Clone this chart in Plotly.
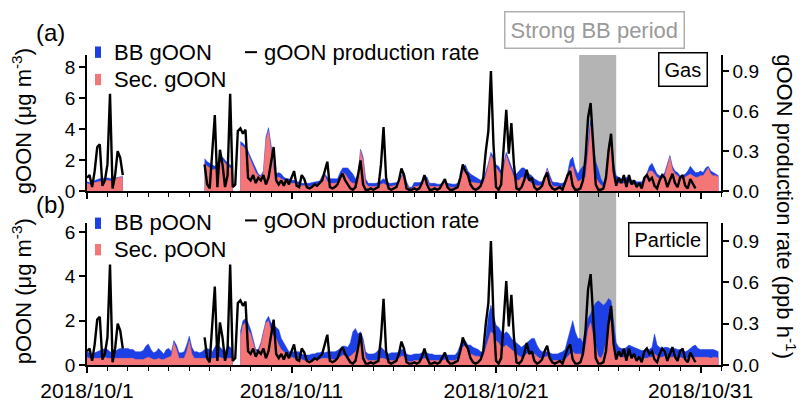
import pandas as pd
import plotly.graph_objects as go

# 3-hourly time base, one row of 8 values per day (Oct 1 .. Oct 31)
times = pd.date_range("2018-10-01", periods=248, freq="3h")
N = None

# gOON production rate (ppb h-1)
rate = [
    0.10, 0.12, 0.03, 0.15, 0.33, 0.35, 0.04, 0.08,
    0.20, 0.73, 0.02, 0.12, 0.30, 0.25, 0.12, N,
    N, N, N, N, N, N, N, N,
    N, N, N, N, N, N, N, N,
    N, N, N, N, N, N, N, N,
    N, N, N, N, N, N, 0.20, 0.05,
    0.02, 0.30, 0.57, 0.03, 0.31, 0.20, 0.03, 0.12,
    0.73, 0.03, 0.05, 0.45, 0.47, 0.43, 0.46, 0.10,
    0.08, 0.12, 0.06, 0.10, 0.08, 0.12, 0.05, 0.10,
    0.20, 0.33, 0.08, 0.05, 0.08, 0.04, 0.09, 0.05,
    0.10, 0.15, 0.04, 0.03, 0.12, 0.09, 0.03, 0.02,
    0.03, 0.05, 0.04, 0.06, 0.08, 0.15, 0.22, 0.03,
    0.02, 0.03, 0.05, 0.10, 0.13, 0.08, 0.05, 0.02,
    0.01, 0.03, 0.12, 0.23, 0.05, 0.01, 0.01, 0.02,
    0.01, 0.02, 0.03, 0.20, 0.48, 0.10, 0.02, 0.01,
    0.02, 0.03, 0.08, 0.17, 0.12, 0.02, 0.01, 0.01,
    0.02, 0.01, 0.02, 0.06, 0.12, 0.05, 0.01, 0.01,
    0.02, 0.01, 0.02, 0.05, 0.09, 0.03, 0.01, 0.01,
    0.02, 0.03, 0.10, 0.20, 0.15, 0.12, 0.05, 0.02,
    0.01, 0.02, 0.04, 0.10, 0.30, 0.45, 0.90, 0.35,
    0.03, 0.01, 0.05, 0.30, 0.61, 0.28, 0.51, 0.20,
    0.02, 0.01, 0.03, 0.08, 0.16, 0.08, 0.10, 0.03,
    0.01, 0.02, 0.04, 0.10, 0.14, 0.05, 0.02, 0.01,
    0.02, 0.03, 0.01, 0.06, 0.12, 0.15, 0.04, 0.01,
    0.01, 0.02, 0.08, 0.25, 0.55, 0.66, 0.34, 0.05,
    0.01, 0.01, 0.02, 0.10, 0.30, 0.43, 0.15, 0.04,
    0.10, 0.06, 0.12, 0.03, 0.12, 0.05, 0.08, 0.03,
    0.06, 0.02, 0.10, 0.12, 0.08, 0.10, 0.04, 0.02,
    0.08, 0.12, 0.10, 0.03, 0.08, 0.13, 0.06, 0.03,
    0.10, 0.12, 0.04, 0.02, 0.09, 0.05, 0.02, N,
    N, N, N, N, N, N, N, N,
]

# gas-phase OON (ug m-3): total (BB + secondary) and secondary part
goon_total = [
    0.6, 0.55, 0.6, 0.7, 0.75, 0.8, 0.85, 0.85,
    0.85, 0.8, 0.8, 0.85, 0.9, 0.95, 0.95, N,
    N, N, N, N, N, N, N, N,
    N, N, N, N, N, N, N, N,
    N, N, N, N, N, N, N, N,
    N, N, N, N, N, N, 2.1, 1.9,
    1.8, 1.7, 1.6, 1.8, 2.0, 2.2, 2.0, 1.8,
    1.7, 1.6, N, N, 3.2, 3.1, 2.9, 2.6,
    2.2, 1.8, 1.4, 1.1, 1.0, 1.3, 3.5, 4.1,
    3.0, 1.6, 1.1, 1.2, 1.1, 0.9, 0.8, 0.8,
    0.7, 0.7, 0.6, 0.6, 0.5, 0.5, 0.5, 0.5,
    0.55, 0.6, 0.6, 0.65, 1.0, 1.1, 0.9, 0.8,
    0.8, 0.8, 0.8, 1.2, 1.5, 1.5, 1.5, 1.3,
    1.1, 0.8, 1.0, 2.7, 2.2, 0.8, 0.5, 0.5,
    0.5, 0.5, 0.55, 0.7, 0.8, 0.7, 0.5, 0.5,
    0.55, 0.55, 0.7, 1.0, 1.2, 0.6, 0.25, 0.25,
    0.55, 0.55, 0.55, 0.6, 1.0, 0.9, 0.5, 0.5,
    0.5, 0.45, 0.45, 0.5, 0.7, 0.5, 0.45, 0.45,
    0.45, 0.5, 0.9, 1.4, 1.7, 1.3, 1.1, 1.0,
    0.9, 0.8, 0.7, 0.7, 1.2, 1.8, 2.5, 2.2,
    1.7, 1.6, 1.3, 1.8, 2.5, 2.0, 1.6, 1.2,
    1.1, 1.3, 1.5, 1.5, 1.3, 1.1, 1.0, 0.8,
    0.7, 0.6, 0.6, 0.9, 1.5, 1.0, 0.6, 0.55,
    0.55, 0.5, 0.5, 0.6, 1.2, 2.0, 2.2, 1.5,
    1.1, 1.4, 1.6, 1.5, 3.0, 4.6, 3.3, 1.9,
    1.4, 0.8, 0.5, 1.0, 3.0, 3.6, 1.8, 1.0,
    0.9, 0.8, 0.8, 0.9, 0.8, 0.7, 0.7, 0.6,
    0.6, 0.6, 0.7, 1.2, 1.6, 1.8, 1.5, 1.1,
    1.0, 1.0, 1.2, 1.8, 2.3, 1.6, 1.3, 1.2,
    1.0, 1.0, 1.1, 1.3, 1.6, 1.4, 1.2, 1.2,
    1.3, 1.2, 1.5, 1.6, 1.3, 1.2, 1.1, 1.0,
]
goon_sec = [
    0.5, 0.45, 0.5, 0.55, 0.6, 0.65, 0.7, 0.7,
    0.7, 0.65, 0.7, 0.8, 0.85, 0.9, 0.9, N,
    N, N, N, N, N, N, N, N,
    N, N, N, N, N, N, N, N,
    N, N, N, N, N, N, N, N,
    N, N, N, N, N, N, 1.8, 1.6,
    1.5, 1.4, 1.4, 1.5, 1.8, 2.0, 1.8, 1.6,
    1.5, 1.4, N, N, 3.0, 2.9, 2.7, 2.4,
    2.0, 1.6, 1.2, 1.0, 0.9, 1.2, 3.3, 3.9,
    2.8, 1.4, 0.9, 0.9, 0.8, 0.7, 0.6, 0.6,
    0.5, 0.5, 0.45, 0.45, 0.35, 0.35, 0.35, 0.3,
    0.35, 0.35, 0.4, 0.45, 0.9, 1.0, 0.6, 0.5,
    0.5, 0.5, 0.55, 0.9, 1.2, 1.1, 0.8, 0.6,
    0.5, 0.5, 0.8, 2.6, 2.0, 0.5, 0.3, 0.3,
    0.3, 0.3, 0.35, 0.45, 0.5, 0.4, 0.3, 0.3,
    0.35, 0.4, 0.6, 0.9, 1.1, 0.4, 0.15, 0.15,
    0.3, 0.3, 0.35, 0.5, 0.9, 0.7, 0.3, 0.3,
    0.3, 0.3, 0.3, 0.4, 0.6, 0.35, 0.25, 0.25,
    0.25, 0.3, 0.6, 1.2, 1.5, 0.9, 0.6, 0.55,
    0.5, 0.5, 0.5, 0.5, 1.0, 1.6, 2.3, 2.0,
    1.5, 1.3, 1.0, 1.5, 2.3, 1.8, 1.4, 0.9,
    0.7, 0.7, 0.9, 0.9, 0.8, 0.6, 0.5, 0.4,
    0.35, 0.35, 0.4, 0.8, 1.4, 0.8, 0.35, 0.3,
    0.3, 0.3, 0.3, 0.35, 0.8, 1.5, 1.6, 1.0,
    0.6, 0.7, 0.8, 0.9, 2.5, 4.2, 2.8, 0.9,
    0.6, 0.4, 0.3, 0.8, 2.8, 3.4, 1.5, 0.6,
    0.5, 0.5, 0.5, 0.6, 0.5, 0.45, 0.4, 0.4,
    0.4, 0.4, 0.5, 1.0, 1.3, 1.3, 1.1, 0.9,
    0.8, 0.8, 1.0, 1.7, 2.2, 1.4, 1.1, 1.0,
    0.8, 0.8, 0.9, 1.0, 1.1, 1.0, 0.9, 0.9,
    1.0, 1.0, 1.3, 1.5, 1.1, 1.0, 1.0, 0.9,
]

# particle-phase OON (ug m-3): total (BB + secondary) and secondary part
poon_total = [
    0.6, 0.55, 0.5, 0.55, 0.6, 0.65, 0.7, 0.75,
    0.7, 0.6, 0.55, 0.6, 0.7, 0.75, 0.75, 0.75,
    0.75, 0.7, 0.7, 0.6, 0.6, 0.6, 0.65, 0.85,
    0.95, 0.7, 0.55, 0.6, 0.75, 0.6, 0.5, 0.7,
    0.75, 0.6, 1.1, 0.9, 0.55, 0.55, 0.6, 0.9,
    1.3, 0.8, 0.6, 0.6, 0.55, 0.6, 0.7, 0.75,
    0.7, 0.6, 0.8, 1.0, 0.8, 0.7, 0.6, 0.9,
    0.8, 0.7, N, N, 1.5, 2.0, 2.1, 1.9,
    1.6, 1.2, 0.7, 0.7, 1.0, 1.5, 2.0, 2.2,
    1.9, 1.8, 1.7, 1.6, 1.2, 1.0, 0.8, 0.6,
    0.6, 0.6, 0.6, 0.6, 0.5, 0.45, 0.45, 0.45,
    0.5, 0.5, 0.55, 0.55, 0.6, 0.55, 0.6, 0.6,
    0.6, 0.6, 0.65, 0.75, 0.85, 0.85, 0.8, 1.0,
    1.5, 1.65, 1.4, 1.5, 1.2, 0.6, 0.5, 0.5,
    0.5, 0.55, 0.7, 0.8, 0.7, 0.55, 0.5, 0.55,
    0.55, 0.55, 0.6, 0.7, 0.7, 0.5, 0.45, 0.45,
    0.5, 0.5, 0.5, 0.55, 0.6, 0.55, 0.5, 0.5,
    0.45, 0.45, 0.45, 0.45, 0.5, 0.45, 0.45, 0.45,
    0.45, 0.6, 0.9, 1.1, 1.1, 0.9, 0.9, 0.8,
    0.75, 0.7, 0.6, 0.6, 1.2, 2.2, 2.7, 2.3,
    1.8, 1.7, 1.5, 1.4, 1.5, 1.4, 1.2, 1.1,
    1.0, 0.9, 0.8, 0.9, 1.0, 1.1, 1.2, 1.2,
    0.9, 0.7, 0.6, 0.6, 0.6, 0.55, 0.5, 0.5,
    0.5, 0.55, 0.6, 0.7, 1.1, 1.6, 2.0, 1.5,
    1.2, 1.2, 1.0, 1.6, 2.1, 2.3, 2.6, 2.8,
    2.9, 2.8, 2.7, 2.8, 3.0, 2.9, 1.8, 1.0,
    0.8, 0.75, 0.7, 0.8, 0.9, 0.85, 0.8, 0.75,
    0.7, 0.65, 0.65, 0.7, 0.7, 0.8, 1.4, 0.9,
    0.8, 0.75, 0.8, 0.8, 0.75, 0.7, 0.75, 0.7,
    0.7, 0.65, 0.6, 0.65, 0.75, 0.85, 0.9, 0.75,
    0.7, 0.7, 0.7, 0.7, 0.7, 0.7, 0.65, 0.6,
]
poon_sec = [
    0.35, 0.3, 0.3, 0.3, 0.3, 0.3, 0.35, 0.35,
    0.3, 0.3, 0.3, 0.3, 0.3, 0.3, 0.3, 0.3,
    0.3, 0.3, 0.3, 0.25, 0.25, 0.25, 0.25, 0.3,
    0.35, 0.3, 0.25, 0.25, 0.3, 0.25, 0.25, 0.3,
    0.35, 0.4, 1.0, 0.7, 0.3, 0.3, 0.3, 0.6,
    1.1, 0.5, 0.3, 0.3, 0.3, 0.3, 0.3, 0.3,
    0.3, 0.3, 0.3, 0.3, 0.35, 0.3, 0.3, 0.3,
    0.3, 0.3, N, N, 1.2, 1.8, 1.9, 1.6,
    1.4, 1.0, 0.6, 0.6, 0.9, 1.4, 1.9, 2.0,
    1.5, 1.3, 1.2, 0.9, 0.7, 0.6, 0.5, 0.4,
    0.35, 0.3, 0.3, 0.3, 0.25, 0.2, 0.2, 0.2,
    0.2, 0.2, 0.25, 0.25, 0.3, 0.3, 0.3, 0.25,
    0.25, 0.25, 0.3, 0.35, 0.45, 0.4, 0.35, 0.4,
    0.5, 0.6, 0.8, 1.4, 1.0, 0.3, 0.2, 0.2,
    0.2, 0.2, 0.25, 0.3, 0.3, 0.25, 0.2, 0.2,
    0.2, 0.25, 0.3, 0.4, 0.4, 0.2, 0.15, 0.15,
    0.2, 0.2, 0.2, 0.25, 0.3, 0.3, 0.2, 0.2,
    0.2, 0.2, 0.2, 0.2, 0.25, 0.2, 0.2, 0.2,
    0.2, 0.3, 0.5, 0.8, 0.9, 0.6, 0.5, 0.45,
    0.4, 0.4, 0.35, 0.4, 0.8, 1.2, 1.5, 1.4,
    1.1, 1.0, 0.8, 0.8, 0.9, 0.8, 0.7, 0.6,
    0.5, 0.4, 0.35, 0.4, 0.5, 0.6, 0.5, 0.5,
    0.4, 0.3, 0.3, 0.35, 0.4, 0.3, 0.2, 0.2,
    0.2, 0.2, 0.2, 0.25, 0.4, 0.5, 0.6, 0.5,
    0.5, 0.5, 0.4, 0.8, 1.6, 1.9, 1.3, 0.8,
    0.4, 0.3, 0.5, 1.0, 1.8, 2.0, 1.0, 0.5,
    0.4, 0.35, 0.35, 0.4, 0.4, 0.4, 0.4, 0.35,
    0.35, 0.3, 0.3, 0.3, 0.35, 0.35, 0.5, 0.4,
    0.35, 0.35, 0.4, 0.4, 0.35, 0.35, 0.4, 0.35,
    0.35, 0.3, 0.3, 0.3, 0.35, 0.35, 0.35, 0.35,
    0.35, 0.35, 0.35, 0.35, 0.3, 0.35, 0.35, 0.3,
]

bb_period = ("2018-10-25 01:30", "2018-10-26 21:00")
x_range = ["2018-10-01 00:00", "2018-11-01 00:00"]

BLUE = "#1c3fe6"
PINK = "#f47676"
FONT = "Arial, Liberation Sans, sans-serif"

# page geometry (pixels) and helpers to place decorations in paper units
W, H = 807, 414
ML, MR, MT, MB = 87, 86, 55, 31
PW, PH = W - ML - MR, H - MT - MB


def px(x):
    return (x - ML) / PW


def py(y):
    return (H - MB - y) / PH


top_dom = [py(199), 1.0]
bot_dom = [0.0, py(233)]


def runs(values):
    """Split a series at missing values into (times, values) runs."""
    out, cur_t, cur_v = [], [], []
    for t, v in zip(times, values):
        if v is None:
            if cur_v:
                out.append((cur_t, cur_v))
            cur_t, cur_v = [], []
        else:
            cur_t.append(t)
            cur_v.append(v)
    if cur_v:
        out.append((cur_t, cur_v))
    return out


fig = go.Figure()


def add_area(values, color, xa, ya):
    # each measured run gets its own filled area so gaps stay empty
    for t, v in runs(values):
        fig.add_trace(go.Scatter(x=t, y=v, xaxis=xa, yaxis=ya, mode="lines",
                                 line=dict(color=color, width=0.5), fill="tozeroy",
                                 fillcolor=color, showlegend=False, hoverinfo="skip"))


def add_panel(total, sec, xa, ya, ya_rate):
    add_area(total, BLUE, xa, ya)
    add_area(sec, PINK, xa, ya)
    fig.add_trace(go.Scatter(x=times, y=rate, xaxis=xa, yaxis=ya_rate, mode="lines",
                             line=dict(color="black", width=2.4), connectgaps=False,
                             showlegend=False, hoverinfo="skip"))


add_panel(goon_total, goon_sec, "x2", "y3", "y4")
add_panel(poon_total, poon_sec, "x", "y", "y2")

axis_common = dict(showline=True, linecolor="black", linewidth=1.5, ticks="outside",
                   ticklen=6, tickwidth=1.5, tickcolor="black", showgrid=False,
                   zeroline=False, tickfont=dict(size=19, color="black", family=FONT))

x_common = dict(axis_common, type="date", range=x_range, tick0="2018-10-01",
                dtick=10 * 86400000, tickformat="%Y/%-m/%-d",
                minor=dict(ticks="outside", dtick=86400000, tick0="2018-10-01",
                           ticklen=4, tickwidth=1.2, tickcolor="black", showgrid=False))

fig.update_layout(
    width=W, height=H, margin=dict(l=ML, r=MR, t=MT, b=MB),
    paper_bgcolor="white", plot_bgcolor="rgba(0,0,0,0)",
    font=dict(family=FONT, color="black"),
    xaxis=dict(x_common, domain=[0, 1], anchor="y",
               tickfont=dict(size=21, color="black", family=FONT)),
    xaxis2=dict(x_common, domain=[0, 1], anchor="y3", matches="x",
                showticklabels=False),
    yaxis=dict(axis_common, domain=bot_dom, anchor="x", range=[0, 6.4],
               tickvals=[0, 2, 4, 6]),
    yaxis2=dict(axis_common, overlaying="y", side="right", anchor="x",
                range=[0, 1.03], tickvals=[0, 0.3, 0.6, 0.9], tickformat=".1f"),
    yaxis3=dict(axis_common, domain=top_dom, anchor="x2", range=[0, 8.8],
                tickvals=[0, 2, 4, 6, 8]),
    yaxis4=dict(axis_common, overlaying="y3", side="right", anchor="x2",
                range=[0, 1.02], tickvals=[0, 0.3, 0.6, 0.9], tickformat=".1f"),
)

shapes = [
    # strong biomass-burning period, spanning both panels
    dict(type="rect", xref="x", yref="paper", x0=bb_period[0], x1=bb_period[1],
         y0=0, y1=1, fillcolor="#b4b4b4", line=dict(width=0), layer="below"),
]
# legend swatches
for top, col in [(46, BLUE), (75, PINK), (227, BLUE), (255, PINK)]:
    shapes.append(dict(type="rect", xref="paper", yref="paper", x0=px(95), x1=px(101),
                       y0=py(top + 12), y1=py(top), fillcolor=col, line=dict(width=0)))
for yy in (52, 230):
    shapes.append(dict(type="line", xref="paper", yref="paper", x0=px(245), x1=px(257),
                       y0=py(yy), y1=py(yy), line=dict(color="black", width=2)))
fig.update_layout(shapes=shapes)

ann = []


def text(x, y, s, size=20, anchor="left", color="black", **kw):
    ann.append(dict(x=px(x), y=py(y), xref="paper", yref="paper", text=s,
                    showarrow=False, xanchor=anchor, yanchor="middle",
                    font=dict(size=size, color=color, family=FONT), **kw))


text(50, 31, "(a)", size=24, anchor="center")
text(50, 213, "(b)", size=24, anchor="center")
text(112, 52, "BB gOON", size=22)
text(112, 81, "Sec. gOON", size=22)
text(262, 52, "gOON production rate", size=22)
text(112, 232, "BB pOON", size=22)
text(112, 261, "Sec. pOON", size=22)
text(262, 230, "gOON production rate", size=22)
text(594, 29, "Strong BB period", size=22, anchor="center", color="#9a9a9a",
     bordercolor="#b0b0b0", borderwidth=1.5, borderpad=5, bgcolor="white")
text(683, 70, "Gas", size=20, anchor="center", bordercolor="black", borderwidth=1.5,
     borderpad=5, bgcolor="white")
text(668, 250, "Particle", size=20, anchor="center", bordercolor="black",
     borderwidth=1.5, borderpad=5, bgcolor="white")
text(22, 125, "gOON (μg m<sup>-3</sup>)", size=22, anchor="center", textangle=-90)
text(22, 305, "pOON (μg m<sup>-3</sup>)", size=22, anchor="center", textangle=-90)
text(786, 215, "gOON production rate (ppb h<sup>-1</sup>)", size=22, anchor="center",
     textangle=90)
fig.update_layout(annotations=ann)

fig.write_html("out.html")
